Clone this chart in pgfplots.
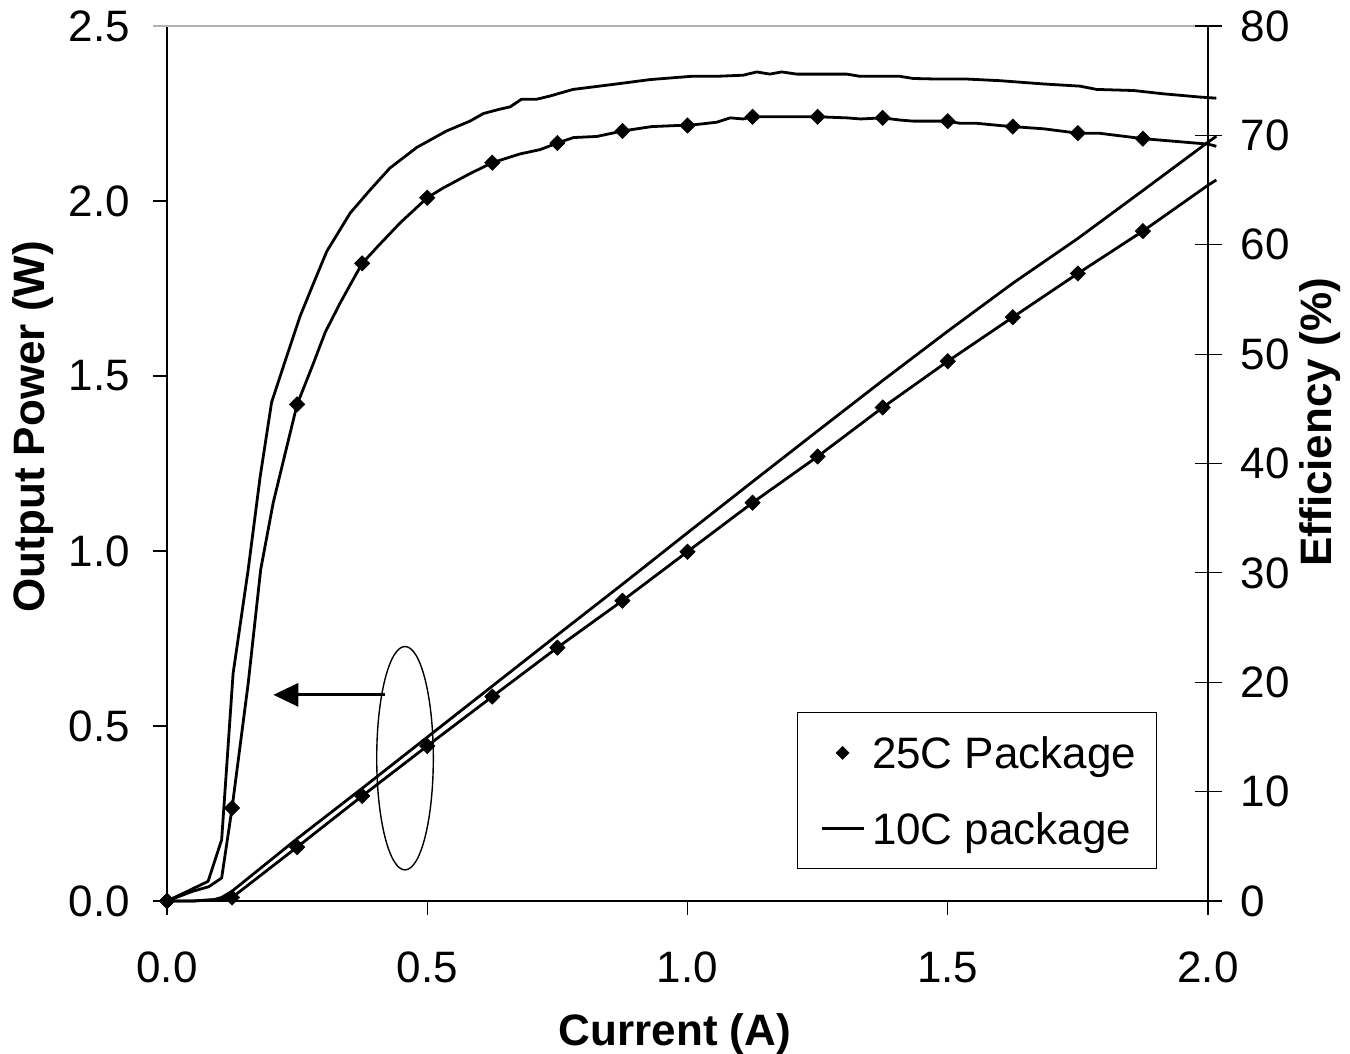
\documentclass[border=0pt]{standalone}
\usepackage{pgfplots}
\pgfplotsset{compat=1.18}
\usepackage{fontspec}
\setmainfont{Liberation Sans}
\usetikzlibrary{arrows.meta}

\pgfplotsset{
  common/.style={
    scale only axis, width=520.5pt, height=437.5pt,
    xmin=0, xmax=2,
    clip=false,
    font=\fontsize{22}{26}\selectfont,
    /pgf/number format/assume math mode=true,
    axis line style={black, line width=0.6pt},
    tick style={black, line width=0.6pt},
  },
  curve/.style={black, line width=1.4pt, line join=round},
  dmark/.style={only marks, mark=square*, mark size=2.7pt,
    mark options={rotate=45, fill=black, draw=black, line width=0.3pt, solid}},
  leglineimg/.style={legend image code/.code={\path[draw=none,fill=none] (0pt,0pt) -- (25pt,0pt); \draw[##1] (4pt,0pt) -- (25pt,0pt);}},
  legmarkimg/.style={legend image code/.code={\path[draw=none,fill=none] (0pt,0pt) -- (25pt,0pt); \draw[##1, only marks, mark size=2.3pt] plot coordinates {(14.5pt,0pt)};}},
}

\begin{document}
\begin{tikzpicture}
% ---------------- left axis: output power ----------------
\begin{axis}[common,
  ymin=0, ymax=2.5,
  axis x line*=bottom, axis y line*=left,
  xtick={0,0.5,1,1.5,2}, ytick={0,0.5,1,1.5,2,2.5},
  tick align=outside, major tick length=7pt,
  xticklabel style={yshift=-15pt, /pgf/number format/.cd, fixed, fixed zerofill, precision=1},
  yticklabel style={xshift=-8pt, /pgf/number format/.cd, fixed, fixed zerofill, precision=1},
  xlabel={\bfseries Current (A)}, ylabel={\bfseries Output Power (W)},
  xlabel style={at={(axis description cs:0.488,-0.152)}, anchor=center},
  ylabel style={at={(axis description cs:-0.1287,0.542)}, anchor=center},
]
\draw[gray!60, line width=0.8pt] ([xshift=-7pt]rel axis cs:0,1) -- ([xshift=7pt]rel axis cs:1,1);
% 25C power: line
\addplot[curve] coordinates {
(0,0) (0.05,0) (0.1,0.004) (0.125,0.01) (0.25,0.154) (0.375,0.30) (0.5,0.443)
(0.625,0.584) (0.75,0.724) (0.875,0.858) (1.0,0.998) (1.125,1.138) (1.25,1.27)
(1.375,1.41) (1.5,1.542) (1.625,1.668) (1.75,1.793) (1.875,1.914) (2.0,2.045) (2.016,2.06)
};
% 25C power: markers
\addplot[dmark] coordinates {
(0,0) (0.125,0.01) (0.25,0.154) (0.375,0.30) (0.5,0.443)
(0.625,0.584) (0.75,0.724) (0.875,0.858) (1.0,0.998) (1.125,1.138) (1.25,1.27)
(1.375,1.41) (1.5,1.542) (1.625,1.668) (1.75,1.793) (1.875,1.914)
};
% 10C power
\addplot[curve] coordinates {
(0,0) (0.05,0) (0.09,0.004) (0.105,0.01) (0.125,0.028) (0.25,0.178) (0.375,0.322)
(0.5,0.468) (0.625,0.614) (0.75,0.76) (0.875,0.905) (1.0,1.052) (1.125,1.198)
(1.25,1.343) (1.375,1.487) (1.5,1.628) (1.625,1.765) (1.75,1.893) (1.875,2.03)
(2.0,2.168) (2.016,2.185)
};
% annotation: arrow and ellipse
\draw[line width=1.6pt, -{Triangle[length=12.5pt,width=11.5pt]}] (axis cs:0.419,0.589) -- (axis cs:0.2043,0.589);
\draw[line width=0.7pt] (axis cs:0.4573,0.408) ellipse [x radius=14.15pt, y radius=55.85pt];
\end{axis}

% ---------------- right axis: efficiency ----------------
\begin{axis}[common,
  ymin=0, ymax=80,
  axis x line=none, axis y line*=right,
  ytick={0,10,20,30,40,50,60,70,80},
  tick align=center, major tick length=13.5pt,
  yticklabel style={xshift=6pt},
  ylabel={\bfseries Efficiency (\%)},
  ylabel style={at={(axis description cs:1.1076,0.547)}, anchor=center},
  legend style={at={(rel axis cs:0.6052,0.2163)}, anchor=north west,
    draw=black, line width=0.6pt, fill=white,
    font=\fontsize{22}{26}\selectfont,
    inner xsep=8pt, inner ysep=10.3pt, row sep=17.7pt, column sep=1.5pt,
    nodes={inner sep=2pt, text depth=0pt},
    cells={anchor=west}},
]
% 25C efficiency line
\addplot[curve, forget plot] coordinates {
(0,0) (0.05,0.9) (0.08,1.3) (0.105,2.1) (0.125,8.5) (0.156,19.9) (0.18,30.3)
(0.204,36.4) (0.23,41.5) (0.25,45.4) (0.28,49.0) (0.304,52.0) (0.333,54.7)
(0.355,56.6) (0.375,58.3) (0.406,59.9) (0.448,62.0) (0.5,64.3) (0.531,65.2)
(0.582,66.5) (0.625,67.5) (0.678,68.3) (0.717,68.7) (0.75,69.3) (0.781,69.8)
(0.826,69.9) (0.875,70.4) (0.931,70.8) (0.979,70.9) (1.0,70.9) (1.056,71.2)
(1.082,71.6) (1.107,71.5) (1.125,71.7) (1.25,71.7) (1.306,71.6) (1.333,71.5)
(1.375,71.6) (1.408,71.4) (1.434,71.3) (1.5,71.3) (1.524,71.1) (1.556,71.1)
(1.6,70.9) (1.625,70.8) (1.684,70.6) (1.75,70.2) (1.79,70.2) (1.875,69.7)
(1.9,69.6) (2.0,69.2) (2.016,69.0)
};
% 25C efficiency markers
\addplot[dmark, legmarkimg] coordinates {
(0,0) (0.125,8.5) (0.25,45.4) (0.375,58.3) (0.5,64.3) (0.625,67.5) (0.75,69.3)
(0.875,70.4) (1.0,70.9) (1.125,71.7) (1.25,71.7) (1.375,71.6) (1.5,71.3)
(1.625,70.8) (1.75,70.2) (1.875,69.7)
};
\addlegendentry{25C Package}
% 10C efficiency
\addplot[curve, leglineimg] coordinates {
(0,0) (0.04,0.9) (0.079,1.8) (0.105,5.6) (0.127,20.8) (0.156,30.3) (0.179,38.8)
(0.201,45.6) (0.23,49.8) (0.256,53.5) (0.28,56.3) (0.307,59.4) (0.352,62.9)
(0.39,65.0) (0.428,67.0) (0.48,68.9) (0.537,70.4) (0.582,71.3) (0.608,72.0)
(0.64,72.4) (0.659,72.6) (0.681,73.3) (0.71,73.3) (0.736,73.6) (0.78,74.2)
(0.864,74.7) (0.928,75.1) (1.008,75.4) (1.056,75.4) (1.107,75.5) (1.133,75.8)
(1.158,75.6) (1.181,75.8) (1.21,75.6) (1.306,75.6) (1.331,75.4) (1.408,75.4)
(1.434,75.2) (1.479,75.15) (1.536,75.15) (1.6,75.0) (1.684,74.7) (1.754,74.5)
(1.786,74.2) (1.857,74.1) (1.914,73.8) (1.985,73.5) (2.016,73.4)
};
\addlegendentry{10C package}
\end{axis}
\pgfresetboundingbox
\useasboundingbox (-83.5pt,-76.5pt) rectangle ++(675pt,527pt);
\end{tikzpicture}
\end{document}
